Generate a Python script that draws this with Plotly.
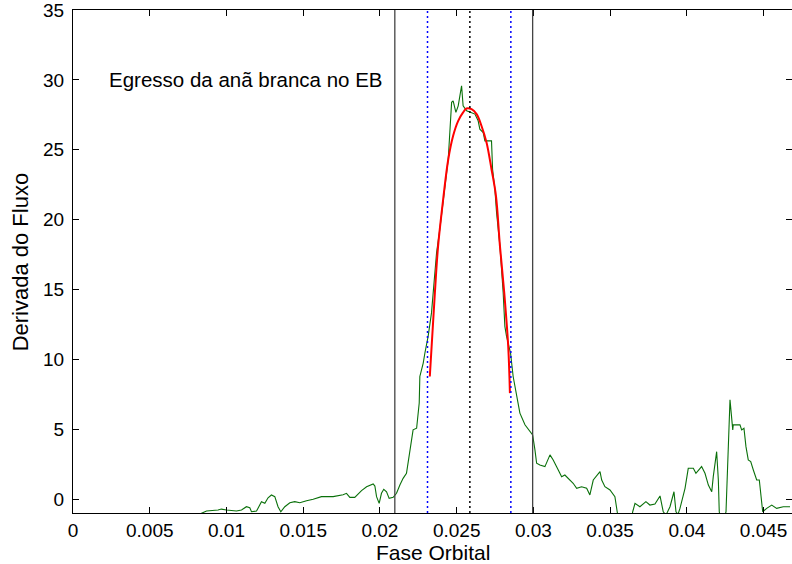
import plotly.graph_objects as go

# Green curve: derivative of the flux
fase = [0.0080, 0.00870, 0.00945, 0.00967, 0.01000, 0.01065, 0.01098, 0.01130, 0.01152, 0.01163,
        0.01196, 0.01228, 0.01250, 0.01271, 0.01293, 0.01315, 0.01336, 0.01354, 0.01380, 0.01413,
        0.01445, 0.01478, 0.01522, 0.01565, 0.01619, 0.01695, 0.01760, 0.01782, 0.01804, 0.01836,
        0.01880, 0.01913, 0.01956, 0.01967, 0.01978, 0.01995, 0.02010, 0.02025, 0.02043, 0.02060,
        0.02086, 0.02108, 0.02130, 0.02151, 0.02173, 0.02184, 0.02206, 0.02216, 0.02239, 0.02256,
        0.02260, 0.02282, 0.02293, 0.02314, 0.02336, 0.02358, 0.02369, 0.02390, 0.02412, 0.02434,
        0.02445, 0.02467, 0.02477, 0.02495, 0.02510, 0.02521, 0.02532, 0.02542, 0.02565, 0.02619,
        0.02640, 0.02651, 0.02673, 0.02684, 0.02727, 0.02734, 0.02749, 0.02760, 0.02782, 0.02803,
        0.02814, 0.02825, 0.02836, 0.02851, 0.02868, 0.02890, 0.02912, 0.02945, 0.02977, 0.02995,
        0.03010, 0.03021, 0.03042, 0.03075, 0.03108, 0.03129, 0.03162, 0.03184, 0.03205, 0.03238,
        0.03259, 0.03282, 0.03314, 0.03347, 0.03368, 0.03390, 0.03434, 0.03445, 0.03466, 0.03499,
        0.03531, 0.03546, 0.03564, 0.03629, 0.03647, 0.03662, 0.03694, 0.03733, 0.03759, 0.03792,
        0.03825, 0.03846, 0.03864, 0.03890, 0.03916, 0.03929, 0.03942, 0.03955, 0.03988, 0.04009,
        0.04042, 0.04059, 0.04096, 0.04118, 0.04140, 0.04162, 0.04172, 0.04194, 0.04205, 0.04211,
        0.04229, 0.04255, 0.04281, 0.04299, 0.04302, 0.04346, 0.04357, 0.04372, 0.04385, 0.04400,
        0.04416, 0.04433, 0.04455, 0.04472, 0.04494, 0.04520, 0.04553, 0.04585, 0.04628, 0.04672]
derivada = [-1.2, -0.86, -0.79, -0.72, -0.79, -0.86, -0.79, -0.55, -0.62, -0.91,
            -0.86, -0.19, -0.31, 0.09, 0.29, 0.17, -0.55, -0.91, -0.55, -0.27,
            -0.19, -0.27, -0.12, -0.02, 0.17, 0.17, 0.31, 0.41, 0.12, 0.12,
            0.60, 0.88, 1.08, 0.93, 0.17, -0.31, 0.41, 0.70, 0.52, 0.05,
            0.12, 0.41, 1.00, 1.48, 1.84, 2.56, 4.00, 4.95, 5.07, 6.87,
            8.77, 9.73, 10.45, 11.64, 13.32, 15.95, 17.63, 19.30, 21.45, 23.12,
            24.32, 28.39, 28.50, 27.67, 28.14, 28.86, 29.58, 28.14, 27.78, 27.55,
            27.07, 26.47, 26.23, 25.63, 25.63, 23.60, 22.17, 20.49, 18.10, 14.76,
            12.36, 11.64, 11.17, 10.45, 8.77, 7.34, 6.15, 5.31, 4.83, 4.59,
            3.52, 2.56, 2.44, 2.32, 3.16, 2.80, 2.08, 1.60, 1.72, 1.36,
            1.13, 0.77, 0.88, 0.77, 0.29, 1.36, 1.96, 1.36, 0.88, 0.65,
            0.17, -0.91, -2.0, -2.0, -0.91, -0.31, -0.55, -0.19, -0.43, -0.36,
            0.22, -0.91, -1.15, -0.55, 0.52, -0.91, -1.1, -0.67, 0.77, 2.20,
            2.20, 1.84, 2.32, 1.84, 1.00, 0.52, 1.60, 3.39, 1.36, -0.91,
            -2.0, -0.91, 7.10, 4.95, 5.31, 5.31, 4.95, 5.07, 3.75, 2.80,
            2.68, 2.08, 1.36, 1.36, -0.91, -0.67, -0.43, -0.67, -0.55, -0.55]

# Red fit around the peak
fit_fase = [0.02325, 0.02358, 0.02379, 0.02412, 0.02445, 0.02477, 0.02510, 0.02542, 0.02564, 0.02597,
            0.02630, 0.02662, 0.02695, 0.02727, 0.02756, 0.02782, 0.02810, 0.02836, 0.02847]
fit_deriv = [8.77, 14.76, 18.10, 21.45, 24.30, 26.00, 27.07, 27.67, 27.95, 27.90,
             27.55, 26.70, 25.50, 23.60, 21.70, 18.10, 14.76, 10.90, 7.58]

# Vertical markers
linhas_solidas = [0.02097, 0.02995]
linhas_azuis = [0.02310, 0.02853]
linha_centro = [0.02586]

x_range = [0, 0.04685]
y_range = [-1, 35]
x_tickvals = [0, 0.005, 0.01, 0.015, 0.02, 0.025, 0.03, 0.035, 0.04, 0.045]
x_ticktext = ["0", "0.005", "0.01", "0.015", "0.02", "0.025", "0.03", "0.035", "0.04", "0.045"]
y_tickvals = [0, 5, 10, 15, 20, 25, 30, 35]

FONT = "Liberation Sans, Arial, Helvetica, sans-serif"

fig = go.Figure()
fig.add_trace(go.Scatter(x=fase, y=derivada, mode="lines",
                         line=dict(color="#0a700a", width=1.1), showlegend=False,
                         cliponaxis=True))
fig.add_trace(go.Scatter(x=fit_fase, y=fit_deriv, mode="lines", line_shape="spline",
                         line=dict(color="#ff0000", width=2), showlegend=False))

for xv in linhas_solidas:
    fig.add_shape(type="line", xref="x", yref="paper", x0=xv, x1=xv, y0=0, y1=1,
                  line=dict(color="#444444", width=1.3))
for xv in linhas_azuis:
    fig.add_shape(type="line", xref="x", yref="paper", x0=xv, x1=xv, y0=0, y1=1,
                  line=dict(color="#0000ff", width=1.5, dash="2px,3px"))
for xv in linha_centro:
    fig.add_shape(type="line", xref="x", yref="paper", x0=xv, x1=xv, y0=0, y1=1,
                  line=dict(color="#000000", width=1.5, dash="2px,3px"))

fig.add_annotation(x=0.00222, y=30, xref="x", yref="y", text="Egresso da anã branca no EB",
                   showarrow=False, xanchor="left", yanchor="middle",
                   font=dict(family=FONT, size=20.5, color="#000000"))
fig.add_annotation(x=0.5, y=-0.0785, xref="paper", yref="paper", text="Fase Orbital",
                   showarrow=False, xanchor="center", yanchor="middle",
                   font=dict(family=FONT, size=21, color="#000000"))
fig.add_annotation(x=-0.0725, y=0.5, xref="paper", yref="paper", text="Derivada do Fluxo",
                   showarrow=False, xanchor="center", yanchor="middle", textangle=-90,
                   font=dict(family=FONT, size=22, color="#000000"))

axis_common = dict(showgrid=False, zeroline=False, showline=True, linecolor="#000000",
                   linewidth=1, mirror="ticks", ticks="inside", ticklen=6, tickwidth=1,
                   tickcolor="#000000", ticklabeloverflow="allow",
                   tickfont=dict(family=FONT, size=19, color="#000000"))

fig.update_xaxes(range=x_range, tickvals=x_tickvals, ticktext=x_ticktext, **axis_common)
fig.update_yaxes(range=y_range, tickvals=y_tickvals, ticklabelstandoff=4, **axis_common)

fig.update_layout(width=792, height=564, margin=dict(l=73, r=0, t=10, b=51),
                  plot_bgcolor="white", paper_bgcolor="white",
                  font=dict(family=FONT, size=19, color="#000000"))

fig.write_html("out.html")
